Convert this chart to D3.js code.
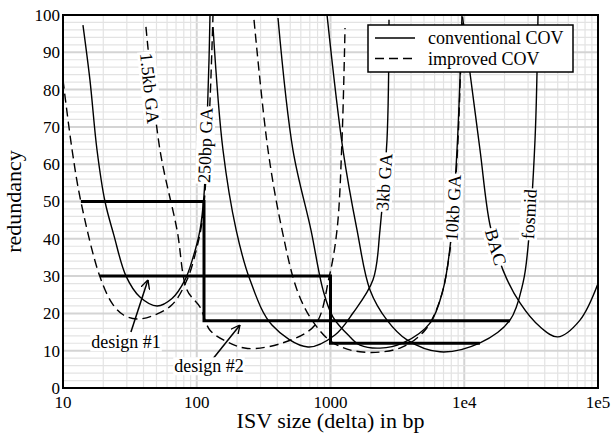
<!DOCTYPE html>
<html>
<head>
<meta charset="utf-8">
<script src="https://cdn.jsdelivr.net/npm/d3@7"></script>
<style>
  body { margin: 0; background: #fff; }
  text { font-family: "Liberation Serif", "Times New Roman", serif; fill: #000; }
</style>
</head>
<body>
<div id="chart"></div>
<script>
// Curves: [ISV size in bp, redundancy]
const conv250bp = [[14.1,97.3],[15.9,82.6],[17.96,63.8],[20.6,50],[24,41],[29.6,30],[37.6,24.4],[50.5,22],[65.3,24],[81.7,29],[93.8,35],[105.8,42.4],[113.3,51.7],[117.3,63.8],[123.5,88],[125.6,100]];
const impr250bp = [[10,82.6],[11.7,63.8],[13.6,50],[18.9,29.8],[23.7,22.3],[28.5,19.5],[35.8,18.5],[46.3,19.3],[65.3,22.3],[84.6,29],[100,37.5],[110,45],[118,58],[126,78],[132.3,100]];
const impr1_5kb = [[41.7,96.8],[53.1,63.8],[71.2,42.4],[84.6,26.3],[105.8,21.7],[125.6,15.5],[171,12.3],[240,10.6],[441,12.1],[766,16.9],[974,29.5],[1119,42.4],[1219,66.5],[1284,96.5]];
const conv3kb = [[132.3,96.8],[157.1,63.8],[197,42.4],[250,29],[365,16.9],[679,11],[1080,14.2],[1473,20.1],[2079,29],[2345,42.4],[2645,66.5],[2738,98.7]];
const conv10kb = [[405,99.2],[524,63.8],[714,42.4],[879,26.3],[1044,19],[1399,13.7],[1662,11.5],[2345,10.7],[3484,12.1],[5545,17.4],[6937,26.3],[7827,37.8],[8828,63.8],[9621,100]];
const impr10kb = [[268,98.7],[341,63.8],[434,42.4],[562,26.3],[727,18.2],[1026,12.3],[1662,9.7],[3308,10.7],[5088,15.5],[6588,23.6],[7827,37],[8528,53.1],[8982,66.5],[9457,87.9],[9788,98.7]];
const convFosmid = [[942,100],[1240,63.8],[1578,42.4],[1974,26.3],[2645,18.2],[3733,12.9],[6588,9.7],[13120,12.1],[21980,18.2],[27500,28.2],[29970,37.8],[33810,66.5],[35600,100]];
const convBAC = [[9700,99.5],[10900,86],[13120,63.8],[15580,43.7],[19490,31.6],[26110,22.8],[36850,16.4],[50000,13.7],[73350,18.2],[100000,28]];

// design step lines
const design1 = [[13.6,50],[113.3,50],[113.3,18],[22000,18]];
const design2 = [[18.9,30],[1000,30],[1000,12],[13100,12]];

// curve labels: text, anchor [ISV, redundancy], rotation
const curveLabels = [
  { text: "1.5kb GA", at: [44.7, 80.4], angle: 84 },
  { text: "250bp GA", at: [115.3, 65.1], angle: -88 },
  { text: "3kb GA", at: [2512, 55.2], angle: -86 },
  { text: "10kb GA", at: [8240, 48.3], angle: -87 },
  { text: "BAC", at: [17260, 37.8], angle: 74 },
  { text: "fosmid", at: [30480, 46.6], angle: -87 }
];
const designLabels = [
  { text: "design #1", at: [29.6, 10.7], from: [32.2, 15], to: [43.2, 29] },
  { text: "design #2", at: [123.5, 4.3], from: [130, 7.5], to: [210.6, 16.9] }
];

const xTicks = [10, 100, 1000, 1e4, 1e5];
const xTickLabels = ["10", "100", "1000", "1e4", "1e5"];
const yTicks = d3.range(0, 101, 10);

const margin = { top: 15, right: 14, bottom: 46, left: 63 };
const width = 612 - margin.left - margin.right;
const height = 434 - margin.top - margin.bottom;

const svgContainer = d3.select("#chart")
    .append("svg")
    .attr("width", 612)
    .attr("height", 434);

const svg = svgContainer.append("g")
    .attr("transform", `translate(${margin.left},${margin.top})`);

const x = d3.scaleLog().domain([10, 1e5]).range([0, width]);
const y = d3.scaleLinear().domain([0, 100]).range([height, 0]);

// grid
x.ticks().forEach(v => {
    const major = Math.abs(Math.log10(v) - Math.round(Math.log10(v))) < 1e-9;
    svg.append("line")
        .attr("x1", x(v)).attr("x2", x(v))
        .attr("y1", 0).attr("y2", height)
        .style("stroke", major ? "#d4d4d4" : "#e3e3e3")
        .style("stroke-width", major ? 2 : 1.2);
});
d3.range(0, 101, 2).forEach(v => {
    const major = v % 10 === 0;
    svg.append("line")
        .attr("x1", 0).attr("x2", width)
        .attr("y1", y(v)).attr("y2", y(v))
        .style("stroke", major ? "#d4d4d4" : "#e3e3e3")
        .style("stroke-width", major ? 2 : 1.2);
});

svg.append("clipPath").attr("id", "plot-clip")
    .append("rect").attr("width", width).attr("height", height);

const plot = svg.append("g").attr("clip-path", "url(#plot-clip)");

const line = d3.line()
    .x(d => x(d[0]))
    .y(d => y(d[1]))
    .curve(d3.curveCatmullRom.alpha(0.5));

const curves = [
    { pts: conv250bp, dashed: false },
    { pts: impr250bp, dashed: true },
    { pts: impr1_5kb, dashed: true },
    { pts: conv3kb, dashed: false },
    { pts: conv10kb, dashed: false },
    { pts: impr10kb, dashed: true },
    { pts: convFosmid, dashed: false },
    { pts: convBAC, dashed: false }
];

plot.selectAll(".curve")
    .data(curves)
    .enter()
    .append("path")
    .attr("class", "curve")
    .attr("d", d => line(d.pts))
    .style("fill", "none")
    .style("stroke", "#000")
    .style("stroke-width", 1.4)
    .style("stroke-dasharray", d => d.dashed ? "9,5" : null);

// design step lines
const stepLine = d3.line().x(d => x(d[0])).y(d => y(d[1]));
[design1, design2].forEach(d => {
    plot.append("path")
        .attr("d", stepLine(d))
        .style("fill", "none")
        .style("stroke", "#000")
        .style("stroke-width", 3);
});

// labels on the curves, with white boxes behind
function boxedText(parent, txt, size) {
    const t = parent.append("text")
        .attr("text-anchor", "middle")
        .attr("dy", "0.35em")
        .style("font-size", size + "px")
        .text(txt);
    const bb = t.node().getBBox();
    parent.insert("rect", "text")
        .attr("x", bb.x - 1).attr("y", bb.y + 1)
        .attr("width", bb.width + 2).attr("height", bb.height - 2)
        .style("fill", "#fff");
}

curveLabels.forEach(l => {
    const g = svg.append("g")
        .attr("transform", `translate(${x(l.at[0])},${y(l.at[1])}) rotate(${l.angle})`);
    boxedText(g, l.text, 18);
});

// arrows for design labels
svg.append("defs").append("marker")
    .attr("id", "arrow")
    .attr("viewBox", "0 0 10 10")
    .attr("refX", 10).attr("refY", 5)
    .attr("markerWidth", 9).attr("markerHeight", 9)
    .attr("markerUnits", "userSpaceOnUse")
    .attr("orient", "auto")
    .append("path")
    .attr("d", "M0,0 L10,5 L0,10")
    .style("fill", "none")
    .style("stroke", "#000")
    .style("stroke-width", 1.5);

designLabels.forEach(l => {
    svg.append("line")
        .attr("x1", x(l.from[0])).attr("y1", y(l.from[1]))
        .attr("x2", x(l.to[0])).attr("y2", y(l.to[1]))
        .style("stroke", "#000")
        .style("stroke-width", 1.5)
        .attr("marker-end", "url(#arrow)");
    const g = svg.append("g")
        .attr("transform", `translate(${x(l.at[0])},${y(l.at[1]) - 6})`);
    boxedText(g, l.text, 18);
});

// frame
svg.append("rect")
    .attr("width", width).attr("height", height)
    .style("fill", "none")
    .style("stroke", "#000")
    .style("stroke-width", 2);

// tick labels
svg.selectAll(".xtick")
    .data(xTicks)
    .enter()
    .append("text")
    .attr("class", "xtick")
    .attr("x", d => x(d))
    .attr("y", height + 20)
    .attr("text-anchor", "middle")
    .style("font-size", "17px")
    .text((d, i) => xTickLabels[i]);

svg.selectAll(".ytick")
    .data(yTicks)
    .enter()
    .append("text")
    .attr("class", "ytick")
    .attr("x", -3)
    .attr("y", d => y(d))
    .attr("dy", "0.35em")
    .attr("text-anchor", "end")
    .style("font-size", "17px")
    .text(d => d);

// axis titles
svg.append("text")
    .attr("x", width / 2)
    .attr("y", height + 40)
    .attr("text-anchor", "middle")
    .style("font-size", "22px")
    .text("ISV size (delta) in bp");

svg.append("text")
    .attr("transform", `translate(${21 - margin.left},${height / 2}) rotate(-90)`)
    .attr("text-anchor", "middle")
    .style("font-size", "22px")
    .text("redundancy");

// legend
const legend = svg.append("g").attr("transform", `translate(${368 - margin.left},${25 - margin.top})`);
legend.append("rect")
    .attr("width", 205).attr("height", 47)
    .style("fill", "#fff")
    .style("stroke", "#000")
    .style("stroke-width", 1.5);
[["conventional COV", false], ["improved COV", true]].forEach((d, i) => {
    const ly = 13 + i * 20.5;
    legend.append("line")
        .attr("x1", 7).attr("x2", 47)
        .attr("y1", ly).attr("y2", ly)
        .style("stroke", "#000")
        .style("stroke-width", 1.4)
        .style("stroke-dasharray", d[1] ? "9,5" : null);
    legend.append("text")
        .attr("x", 60).attr("y", ly)
        .attr("dy", "0.35em")
        .style("font-size", "18px")
        .text(d[0]);
});
</script>
</body>
</html>
